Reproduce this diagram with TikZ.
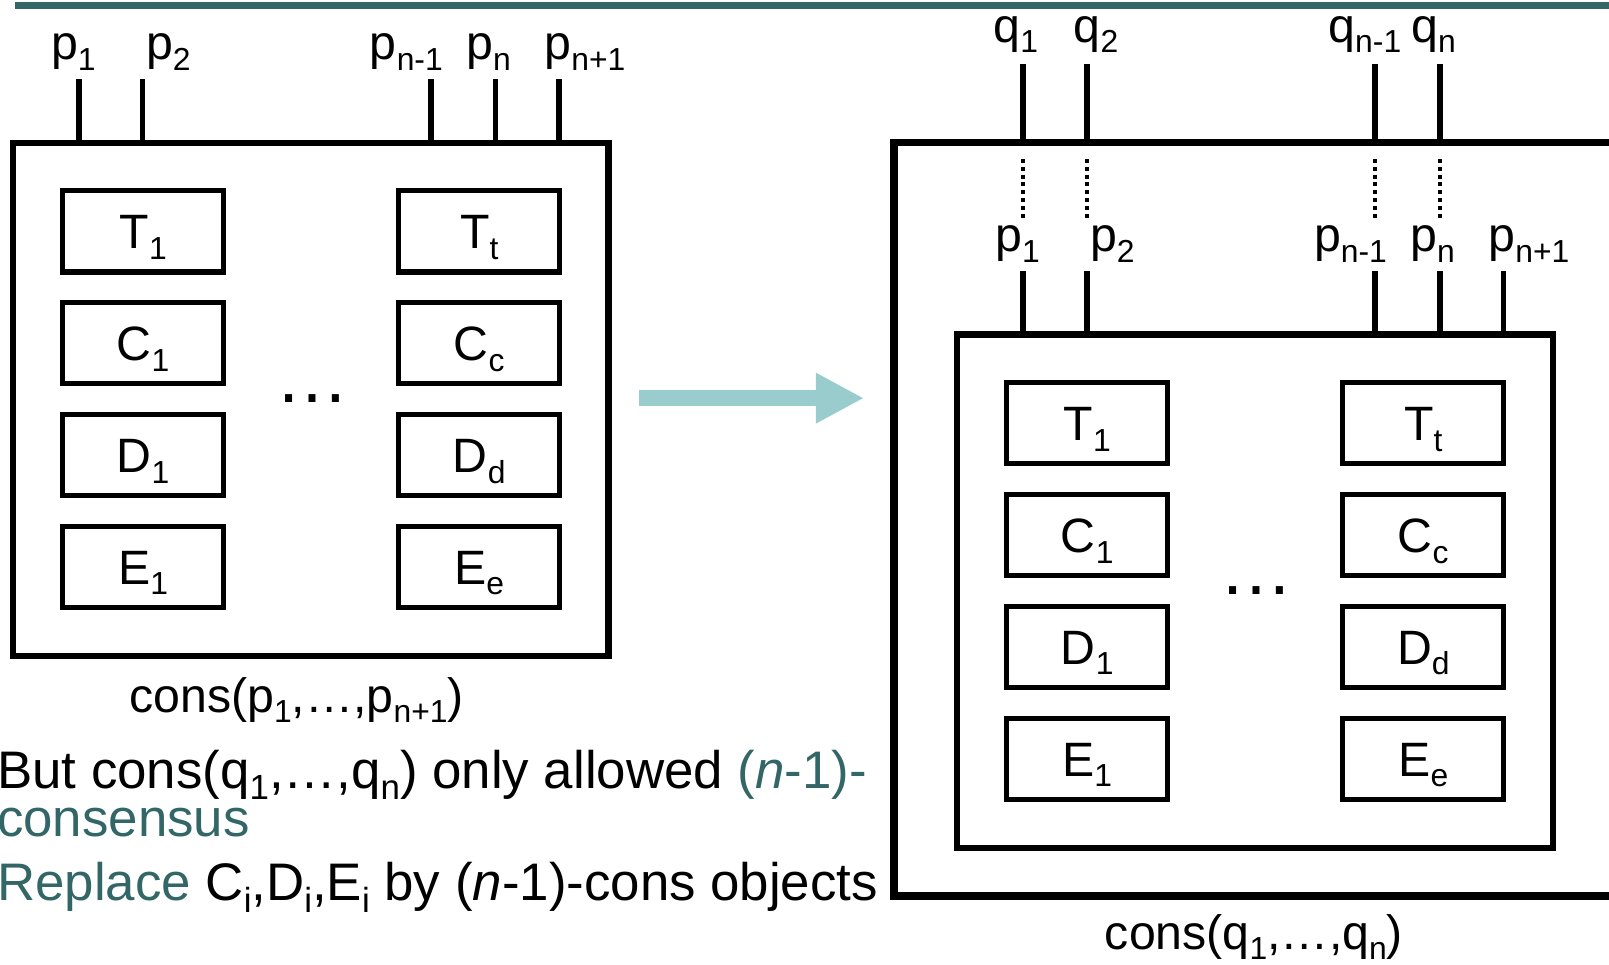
\documentclass[tikz,border=0pt]{standalone}
\usepackage{fontspec}
\setmainfont{Liberation Sans}
\usetikzlibrary{arrows.meta}
\definecolor{darkteal}{HTML}{336666}
\definecolor{lightteal}{HTML}{99CCCC}
% lowered, smaller index text
\newcommand\lo[1]{\raisebox{-0.22em}{\fontsize{0.66em}{0.66em}\selectfont #1}}

% one consensus object: outer box, four rows of cells, ports with labels
\newcommand\drawcons[2]{%
  \begin{scope}[shift={#2}]
    \node[outerbox] (#1box) at (303,389) {};
    \node[cell] (#1T1) at (139.5,225.5) {T\lo{1}};
    \node[cell] (#1C1) at (139.5,334.5) {C\lo{1}};
    \node[cell] (#1D1) at (139.5,443.5) {D\lo{1}};
    \node[cell] (#1E1) at (139.5,552.5) {E\lo{1}};
    \node[cell] (#1Tt) at (467,225.5) {T\lo{t}};
    \node[cell] (#1Cc) at (467,334.5) {C\lo{c}};
    \node[cell] (#1Dd) at (467,443.5) {D\lo{d}};
    \node[cell] (#1Ee) at (467,552.5) {E\lo{e}};
    \node[lbl, font=\fontsize{72}{72}\selectfont] (#1dots) at (304,392) {…};
    \foreach \k/\x/\dx/\t in {1/77/-5.5/1, 2/139/25/2, 3/420/-24/n-1, 4/483/-7/n, 5/545/25/n+1}{
      \coordinate (#1top\k) at (\x,77);
      \draw[port] (#1top\k) -- (#1top\k |- #1box.north);
      \node[lbl] (#1lab\k) at (\x+\dx,58) {p\lo{\t}};
    }
  \end{scope}}

\begin{document}
\begin{tikzpicture}[x=1pt,y=-1pt,
  font=\fontsize{47}{52}\selectfont,
  outerbox/.style={draw, line width=6pt, minimum width=580pt, minimum height=500pt, inner sep=0pt},
  cell/.style={draw, line width=5pt, minimum width=157pt, minimum height=79pt, inner sep=0pt,
    text height=33.7pt, text depth=0pt},
  port/.style={line width=5.5pt},
  lbl/.style={anchor=base, inner sep=0pt},
  txt/.style={anchor=base west, inner sep=0pt, font=\fontsize{51.5}{56}\selectfont}]
\useasboundingbox (0,0) rectangle (1568,940);
\clip (0,0) rectangle (1568,940);

% title rule
\fill[darkteal] (15,2) rectangle (1568,9);

% original object
\drawcons{L}{(0,0)}
\node[lbl] (Lcap) at (289,694) {cons(p\lo{1},…,p\lo{n+1})};

% transformation arrow
\coordinate (arrS) at (623,388);
\coordinate (arrE) at (842,388);
\draw[lightteal, line width=16pt, -{Triangle[length=47pt,width=46pt]}] (arrS) -- (arrE);

% wrapping object with q ports
\node[draw, line width=7.5pt, minimum width=769pt, minimum height=734pt, inner sep=0pt] (Qbox) at (1255.5,506) {};
\drawcons{R}{(920,187)}
\foreach \k/\x/\dx/\t in {1/997/-7/1, 2/1059/9/2, 3/1340/-10/n-1, 4/1403/-6/n}{
  \coordinate (Qtop\k) at (\x,62);
  \draw[port] (Qtop\k) -- (Qtop\k |- Qbox.north);
  \node[lbl] (Qlab\k) at (\x+\dx,41) {q\lo{\t}};
  \coordinate (Qd\k) at (\x,155);
  \coordinate (Pd\k) at (\x,214);
  \draw[line width=3.8pt, dash pattern=on 3.8pt off 3.8pt] (Qd\k) -- (Pd\k);
}
\node[lbl] (Rcap) at (1222,925) {cons(q\lo{1},…,q\lo{n})};

% remarks
\node[txt] (note1) at (-3,768) {But cons(q\lo{1},…,q\lo{n}) only allowed \textcolor{darkteal}{(\textit{n}-1)-}};
\node[txt, darkteal] (note2) at (-3,815) {consensus};
\node[txt] (note3) at (-3,878) {\textcolor{darkteal}{Replace} C\lo{i},D\lo{i},E\lo{i} by (\textit{n}-1)-cons objects};
\end{tikzpicture}
\end{document}
